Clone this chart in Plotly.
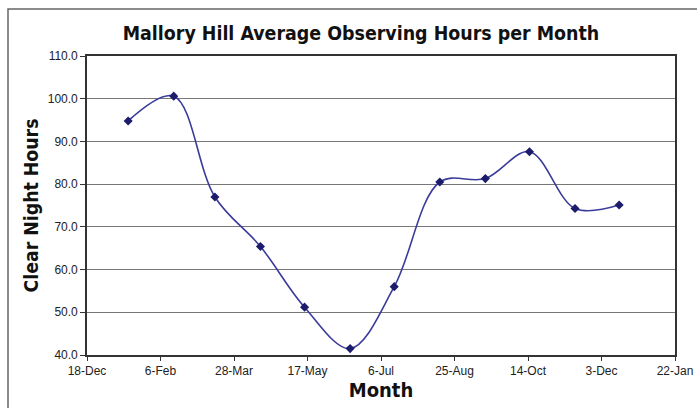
import plotly.graph_objects as go

dates = ["2007-01-15", "2007-02-15", "2007-03-15", "2007-04-15", "2007-05-15", "2007-06-15",
         "2007-07-15", "2007-08-15", "2007-09-15", "2007-10-15", "2007-11-15", "2007-12-15"]
hours = [94.8, 100.6, 77.0, 65.4, 51.2, 41.5, 56.0, 80.5, 81.3, 87.6, 74.3, 75.1]

W, H = 697, 408
L, R, T, B = 87, 22, 56, 53
PW, PH = W - L - R, H - T - B

fig = go.Figure()
fig.add_trace(go.Scatter(
    x=dates, y=hours, mode="lines+markers",
    line=dict(shape="spline", smoothing=1.0, color="#3b3b9c", width=1.6),
    marker=dict(symbol="diamond", size=7, color="#1c1c6b"),
    showlegend=False,
))

fig.update_layout(
    width=W, height=H,
    margin=dict(l=L, r=R, t=T, b=B),
    paper_bgcolor="white", plot_bgcolor="white",
    title=dict(text="<b>Mallory Hill Average Observing Hours per Month</b>",
               x=361 / W, xanchor="center", y=1 - 33 / H, yanchor="middle", yref="container",
               font=dict(family="DejaVu Sans Condensed, DejaVu Sans", size=19.4, color="#111")),
    xaxis=dict(
        type="date", range=["2006-12-18", "2008-01-22"], automargin="bottom",
        tick0="2006-12-18", dtick=50 * 86400000, tickformat="%-d-%b",
        ticklabeloverflow="allow",
        showgrid=False, ticks="outside", ticklen=4, tickcolor="#333",
        showline=True, linecolor="#333", linewidth=1.6, mirror=True,
        tickfont=dict(family="Liberation Sans, Arial", size=12, color="#222"),
        title=dict(text="<b>Month</b>", standoff=3,
                   font=dict(family="DejaVu Sans Condensed, DejaVu Sans", size=20, color="#111")),
    ),
    yaxis=dict(
        range=[40, 110], dtick=10, tickformat=".1f", automargin=False,
        showgrid=True, gridcolor="#777", gridwidth=1,
        ticks="outside", ticklen=5, tickcolor="#333",
        showline=True, linecolor="#333", linewidth=1.6, mirror=True,
        tickfont=dict(family="Liberation Sans, Arial", size=12, color="#222"),
        title=dict(text="<b>Clear Night Hours</b>", standoff=4,
                   font=dict(family="DejaVu Sans Condensed, DejaVu Sans", size=19.3, color="#111")),
    ),
)

fig.add_shape(type="rect", xref="paper", yref="paper",
              x0=-(L - 8) / PW, x1=1 + (R + 10) / PW, y0=-(B + 10) / PH, y1=1 + (T - 9) / PH,
              line=dict(color="#666", width=1.5), layer="below")

fig.write_html("out.html", config={"displayModeBar": False},
               post_script="document.body.style.margin='0';document.body.style.overflow='hidden';")
